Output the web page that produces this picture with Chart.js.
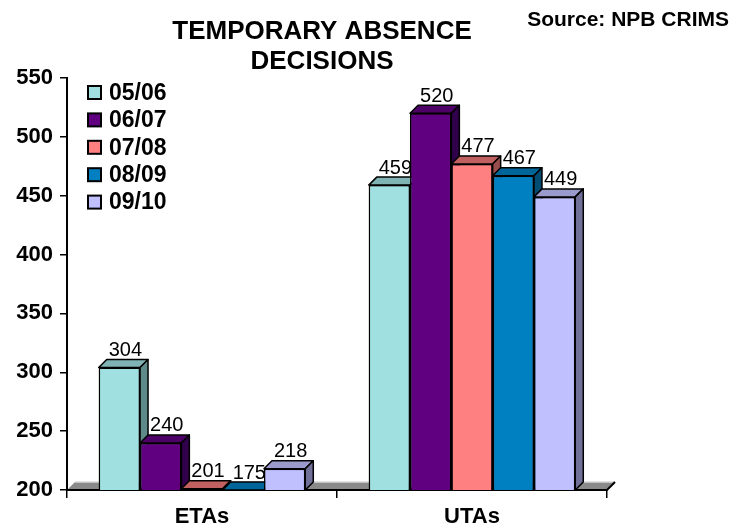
<!DOCTYPE html>
<html>
<head>
<meta charset="utf-8">
<script src="https://cdn.jsdelivr.net/npm/chart.js@4.4.1/dist/chart.umd.min.js"></script>
<style>
html, body { margin: 0; padding: 0; background: #fff; }
#wrap { width: 746px; height: 529px; }
</style>
</head>
<body>
<div id="wrap"><canvas id="taChart" width="746" height="529"></canvas></div>
<script>
const categories = ['ETAs', 'UTAs'];
const years = ['05/06', '06/07', '07/08', '08/09', '09/10'];
const y0506 = [304, 459];
const y0607 = [240, 520];
const y0708 = [201, 477];
const y0809 = [175, 467];
const y0910 = [218, 449];
const yMin = 200, yMax = 550, yStep = 50;

const fronts = ['#A0E0E0', '#600080', '#FF8080', '#0080C0', '#C0C0FF'];
const tops = ['#80B3B3', '#4D0066', '#C06060', '#006699', '#9A9ACC'];
const sides = ['#5F8A8A', '#30004A', '#994D4D', '#004C73', '#707099'];
const DEPTH = 8;
const FONT = "'Liberation Sans', Arial, sans-serif";

// fake 3D: floor slab, bar tops and sides, value labels, title, legend
const bars3d = {
    id: 'bars3d',
    beforeDatasetsDraw(chart) {
        const ctx = chart.ctx, a = chart.chartArea;
        ctx.save();
        ctx.beginPath();
        ctx.moveTo(a.left, a.bottom);
        ctx.lineTo(a.left + DEPTH, a.bottom - DEPTH);
        ctx.lineTo(a.right + DEPTH, a.bottom - DEPTH);
        ctx.lineTo(a.right, a.bottom);
        ctx.closePath();
        ctx.fillStyle = '#8a8a8a';
        ctx.fill();
        ctx.beginPath();
        ctx.moveTo(a.left + DEPTH, a.bottom - DEPTH);
        ctx.lineTo(a.right + DEPTH, a.bottom - DEPTH);
        ctx.strokeStyle = '#d8d8d8';
        ctx.lineWidth = 1.5;
        ctx.stroke();
        ctx.beginPath();
        ctx.moveTo(a.left, a.bottom);
        ctx.lineTo(a.right, a.bottom);
        ctx.lineTo(a.right + DEPTH, a.bottom - DEPTH);
        ctx.strokeStyle = '#000';
        ctx.lineWidth = 2;
        ctx.stroke();
        ctx.restore();
    },
    afterDatasetsDraw(chart) {
        const ctx = chart.ctx, a = chart.chartArea;
        ctx.save();
        ctx.lineWidth = 1.5;
        ctx.strokeStyle = '#000';
        ctx.lineJoin = 'round';
        categories.forEach((c, i) => {
            chart.data.datasets.forEach((ds, j) => {
                const bar = chart.getDatasetMeta(j).data[i];
                const l = bar.x - bar.width / 2, r = bar.x + bar.width / 2;
                const t = Math.min(bar.y, a.bottom);
                ctx.beginPath();
                ctx.moveTo(l, t);
                ctx.lineTo(l + DEPTH, t - DEPTH);
                ctx.lineTo(r + DEPTH, t - DEPTH);
                ctx.lineTo(r, t);
                ctx.closePath();
                ctx.fillStyle = tops[j];
                ctx.fill();
                ctx.stroke();
                ctx.beginPath();
                ctx.moveTo(r, t);
                ctx.lineTo(r + DEPTH, t - DEPTH);
                ctx.lineTo(r + DEPTH, a.bottom - DEPTH);
                ctx.lineTo(r, a.bottom);
                ctx.closePath();
                ctx.fillStyle = sides[j];
                ctx.fill();
                ctx.stroke();
                ctx.save();
                ctx.beginPath();
                ctx.rect(a.left, a.top, a.right - a.left, a.bottom - a.top);
                ctx.clip();
                bar.draw(ctx);
                ctx.restore();
            });
        });
        ctx.restore();
    },
    afterDraw(chart) {
        const ctx = chart.ctx, a = chart.chartArea;
        ctx.save();
        ctx.fillStyle = '#000';
        // value labels
        ctx.font = '20px ' + FONT;
        ctx.textAlign = 'center';
        ctx.textBaseline = 'bottom';
        chart.data.datasets.forEach((ds, j) => {
            chart.getDatasetMeta(j).data.forEach((bar, i) => {
                const t = Math.min(bar.y, a.bottom);
                ctx.fillText(String(ds.data[i]), bar.x + DEPTH / 2 + 2, t - DEPTH + 1);
            });
        });
        // title
        ctx.font = 'bold 26px ' + FONT;
        ctx.textBaseline = 'alphabetic';
        ctx.fillText('TEMPORARY ABSENCE', 322, 39);
        ctx.fillText('DECISIONS', 322, 69);
        ctx.font = 'bold 21px ' + FONT;
        ctx.textAlign = 'right';
        ctx.fillText('Source: NPB CRIMS', 729, 26);
        // legend
        ctx.textAlign = 'left';
        ctx.textBaseline = 'middle';
        ctx.font = 'bold 23px ' + FONT;
        years.forEach((y, j) => {
            const cy = 92.5 + j * 27.4;
            ctx.fillStyle = fronts[j];
            ctx.fillRect(88, cy - 6.5, 13, 13);
            ctx.strokeStyle = '#000';
            ctx.lineWidth = 2;
            ctx.strokeRect(88, cy - 6.5, 13, 13);
            ctx.fillStyle = '#000';
            ctx.fillText(y, 109, cy + 1);
        });
        ctx.restore();
    }
};

const seriesValues = [y0506, y0607, y0708, y0809, y0910];

new Chart(document.getElementById('taChart').getContext('2d'), {
    type: 'bar',
    data: {
        labels: categories,
        datasets: years.map((y, j) => ({
            label: y,
            data: seriesValues[j],
            backgroundColor: fronts[j],
            borderColor: '#000',
            borderWidth: 1.5,
            borderSkipped: false,
            categoryPercentage: 0.765,
            barPercentage: 1.0
        }))
    },
    options: {
        responsive: false,
        animation: false,
        devicePixelRatio: 1,
        layout: { padding: { top: 78, right: 139, left: 0, bottom: 0 } },
        plugins: {
            legend: { display: false },
            tooltip: { enabled: false }
        },
        scales: {
            y: {
                min: yMin,
                max: yMax,
                afterFit: s => { s.width = 67; },
                ticks: {
                    stepSize: yStep,
                    color: '#000',
                    padding: 7,
                    font: { family: FONT, size: 22, weight: 'bold' }
                },
                grid: { drawOnChartArea: false, color: '#000', lineWidth: 1.5, tickLength: 7 },
                border: { display: true, color: '#000', width: 2 }
            },
            x: {
                afterFit: s => { s.height = 39; },
                ticks: {
                    color: '#000',
                    padding: 6,
                    font: { family: FONT, size: 22, weight: 'bold' }
                },
                grid: { drawOnChartArea: false, color: '#000', lineWidth: 1.5, tickLength: 8 },
                border: { display: true, color: '#000', width: 2 }
            }
        }
    },
    plugins: [bars3d]
});
</script>
</body>
</html>
